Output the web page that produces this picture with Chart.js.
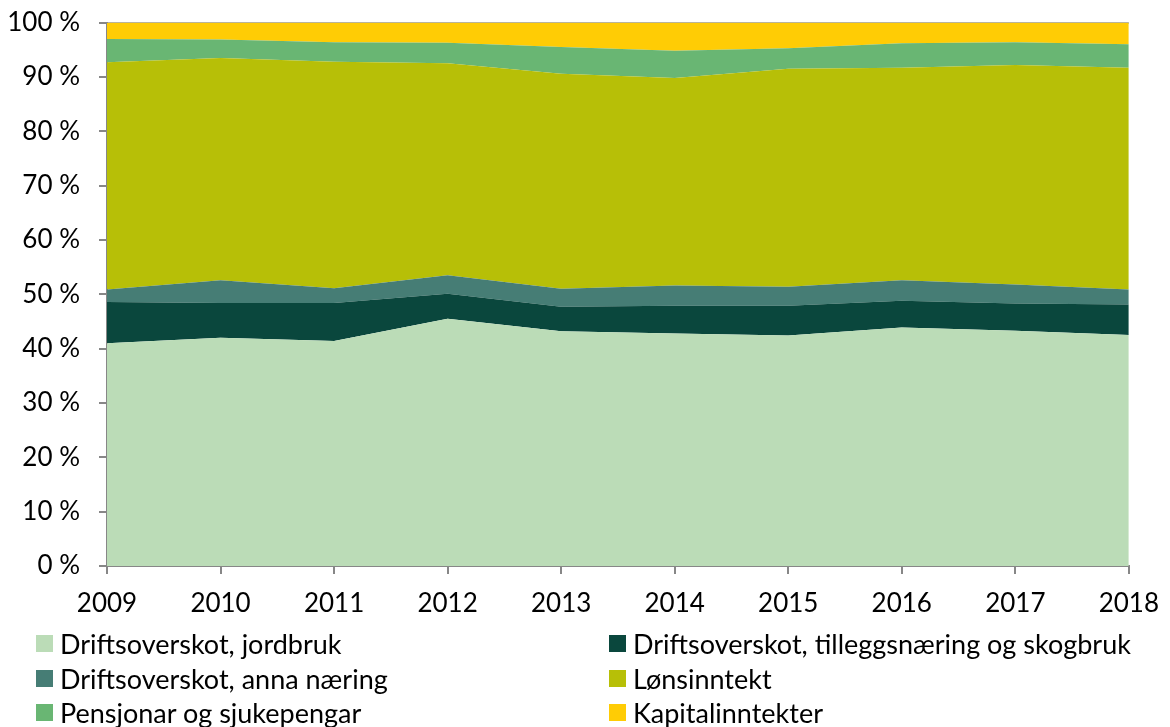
<!DOCTYPE html>
<html>
<head>
<meta charset="utf-8">
<script src="https://cdn.jsdelivr.net/npm/chart.js@4.4.1/dist/chart.umd.min.js"></script>
<style>
  body { margin: 0; background: #fff; font-family: Lato, "Noto Sans", sans-serif; }
  #wrap { position: relative; width: 1170px; height: 727px; overflow: hidden; }
  #box { position: absolute; left: 0; top: -12px; width: 1173px; height: 639px; }
  #legend { position: absolute; left: 0; top: 0; width: 1170px; height: 727px; pointer-events: none; }
  .item { position: absolute; display: flex; align-items: center; font-size: 27px; color: #000; white-space: nowrap; }
  .sw { width: 17px; height: 17px; margin-right: 7px; }
</style>
</head>
<body>
<div id="wrap">
  <div id="box"><canvas id="chart"></canvas></div>
  <div id="legend"></div>
</div>
<script>
var years = ["2009", "2010", "2011", "2012", "2013", "2014", "2015", "2016", "2017", "2018"];

var jordbruk = [41.0, 42.0, 41.4, 45.5, 43.2, 42.8, 42.4, 43.9, 43.3, 42.5];
var tilleggSkog = [7.6, 6.4, 7.0, 4.6, 4.5, 5.1, 5.5, 4.9, 5.0, 5.6];
var annaNaering = [2.3, 4.2, 2.7, 3.4, 3.3, 3.7, 3.5, 3.8, 3.5, 2.8];
var lonn = [41.8, 40.9, 41.7, 39.0, 39.6, 38.2, 40.1, 39.1, 40.4, 40.8];
var pensjon = [4.3, 3.4, 3.6, 3.8, 4.9, 5.0, 3.8, 4.5, 4.2, 4.3];
var kapital = [3.0, 3.1, 3.6, 3.7, 4.5, 5.2, 4.7, 3.8, 3.6, 4.0];

var seriesNames = [
  "Driftsoverskot, jordbruk",
  "Driftsoverskot, tilleggsnæring og skogbruk",
  "Driftsoverskot, anna næring",
  "Lønsinntekt",
  "Pensjonar og sjukepengar",
  "Kapitalinntekter"
];
var seriesData = [jordbruk, tilleggSkog, annaNaering, lonn, pensjon, kapital];
var seriesColors = ["#bbdcb7", "#0a473d", "#467d75", "#b7bf07", "#69b673", "#ffcc05"];

var yTicks = [0, 10, 20, 30, 40, 50, 60, 70, 80, 90, 100];

var datasets = [];
for (var i = 0; i < seriesData.length; i++) {
  datasets.push({
    label: seriesNames[i],
    data: seriesData[i],
    backgroundColor: seriesColors[i],
    borderColor: seriesColors[i],
    borderWidth: 0,
    pointRadius: 0,
    tension: 0,
    fill: i === 0 ? "origin" : "-1"
  });
}

var tickFont = { family: "Lato", size: 26 };

var ctx = document.getElementById("chart").getContext("2d");
var myChart = new Chart(ctx, {
  type: "line",
  data: { labels: years, datasets: datasets },
  options: {
    responsive: true,
    maintainAspectRatio: false,
    animation: false,
    layout: { padding: { top: 9, right: 38, left: 0, bottom: 0 } },
    plugins: { legend: { display: false }, tooltip: { enabled: false } },
    scales: {
      x: {
        offset: false,
        grid: { drawOnChartArea: false, tickLength: 8, tickColor: "#878787", lineWidth: 2 },
        border: { color: "#878787", width: 2 },
        ticks: { color: "#000", font: tickFont, padding: 14, maxRotation: 0, autoSkip: false },
        afterFit: function(scale) { scale.height = 61; }
      },
      y: {
        stacked: true,
        min: 0,
        max: 100,
        afterBuildTicks: function(scale) {
          scale.ticks = yTicks.map(function(v) { return { value: v }; });
        },
        grid: {
          color: function(c) { return c.tick && c.tick.value === 100 ? "#b0b0b0" : "rgba(0,0,0,0)"; },
          tickLength: 8,
          tickColor: "#878787",
          lineWidth: 2
        },
        border: { color: "#878787", width: 2 },
        ticks: {
          color: "#000",
          font: tickFont,
          padding: 19,
          callback: function(v) { return v + " %"; }
        },
        afterFit: function(scale) { scale.width = 107; }
      }
    }
  }
});

// legend, two columns in the same order as the reference
var legendPos = [
  [36, 643], [609, 643],
  [36, 678], [609, 678],
  [36, 712], [609, 712]
];
var legend = document.getElementById("legend");
for (var k = 0; k < seriesNames.length; k++) {
  var it = document.createElement("div");
  it.className = "item";
  it.style.left = legendPos[k][0] + "px";
  it.style.top = (legendPos[k][1] - 16) + "px";
  it.style.height = "32px";
  it.innerHTML = '<span class="sw" style="background:' + seriesColors[k] + '"></span>' + seriesNames[k];
  legend.appendChild(it);
}
</script>
</body>
</html>
